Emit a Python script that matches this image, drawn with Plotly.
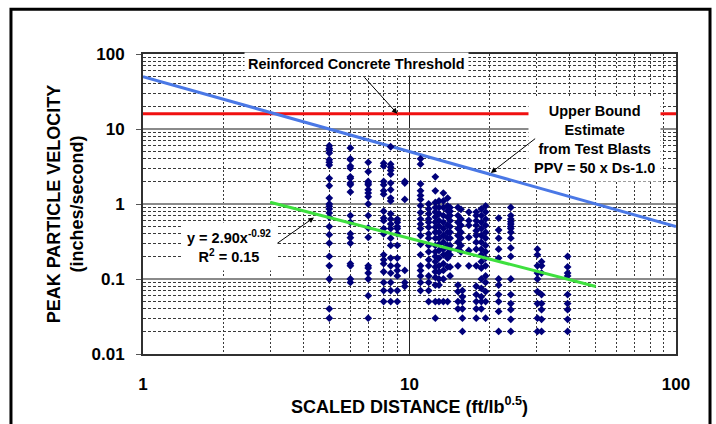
import math
import plotly.graph_objects as go

# Measured blasts: scaled distance (ft/lb^0.5) of each monitoring column and the PPV readings there
column_distances = [5.0, 6.0, 7.0, 8.0, 8.5, 9.0, 9.6, 11.0, 11.8, 12.5, 12.9, 13.4, 13.9,
                    14.2, 15.2, 15.6, 15.8, 16.7, 17.8, 18.6, 19.3, 21.6, 24.0, 30.2, 31.3, 39.2]
column_ppv = [
    [6.0, 5.5, 5.2, 4.8, 3.9, 3.6, 3.3, 2.2, 1.75, 1.2, 1.0, 0.93, 0.86, 0.76, 0.67, 0.5, 0.39,
     0.3, 0.2, 0.15, 0.1, 0.04, 0.03],
    [5.6, 4.0, 3.9, 3.2, 3.0, 2.3, 2.2, 1.9, 1.8, 1.45, 0.7, 0.57, 0.4, 0.355, 0.3, 0.16, 0.15,
     0.1, 0.09],
    [3.6, 2.7, 2.0, 1.9, 1.8, 1.55, 1.4, 1.25, 1.0, 0.7, 0.48, 0.36, 0.15, 0.14, 0.12, 0.1,
     0.06, 0.03],
    [3.5, 3.2, 2.0, 1.8, 1.5, 1.35, 0.8, 0.65, 0.6, 0.47, 0.4, 0.21, 0.18, 0.16, 0.125, 0.09,
     0.07, 0.05],
    [5.8, 3.4, 3.1, 2.8, 2.5, 1.9, 1.55, 1.2, 1.1, 0.74, 0.63, 0.54, 0.47, 0.35, 0.28, 0.19,
     0.15, 0.12, 0.09, 0.07, 0.05],
    [0.63, 0.57, 0.5, 0.47, 0.4, 0.28, 0.19, 0.15, 0.13, 0.11, 0.07, 0.05],
    [2.0, 1.9, 1.15, 0.13, 0.09, 0.08],
    [4.0, 3.4, 1.85, 1.5, 1.3, 1.15, 0.95, 0.77, 0.63, 0.54, 0.47, 0.38, 0.29, 0.21, 0.15,
     0.13, 0.11, 0.09, 0.07],
    [1.0, 0.86, 0.74, 0.63, 0.57, 0.49, 0.4, 0.35, 0.28, 0.23, 0.18, 0.15, 0.11, 0.09, 0.07,
     0.05],
    [2.3, 1.5, 1.05, 0.9, 0.78, 0.67, 0.57, 0.49, 0.42, 0.35, 0.28, 0.23, 0.2, 0.17, 0.145,
     0.125, 0.105, 0.083, 0.05, 0.03],
    [1.1, 0.9, 0.74, 0.6, 0.51, 0.42, 0.35, 0.29, 0.24, 0.19, 0.15, 0.125, 0.1, 0.083, 0.05],
    [1.4, 1.1, 0.9, 0.7, 0.57, 0.47, 0.38, 0.31, 0.25, 0.21, 0.16, 0.13, 0.1, 0.05],
    [1.2, 0.94, 0.81, 0.67, 0.52, 0.42, 0.35, 0.28, 0.22, 0.19, 0.145, 0.05],
    [0.9, 0.8, 0.7, 0.6, 0.5, 0.42, 0.35, 0.28, 0.25, 0.21, 0.145, 0.11],
    [0.9, 0.7, 0.57, 0.47, 0.38, 0.31, 0.25, 0.15, 0.083, 0.068, 0.05, 0.04],
    [0.85, 0.63, 0.52, 0.42, 0.35, 0.28, 0.23],
    [0.07, 0.058, 0.05, 0.04, 0.03, 0.02],
    [0.78, 0.6, 0.52, 0.36, 0.24, 0.15],
    [0.78, 0.7, 0.6, 0.52, 0.44, 0.38, 0.31, 0.25, 0.15, 0.08, 0.062, 0.05, 0.04, 0.03],
    [0.86, 0.7, 0.57, 0.47, 0.38, 0.31, 0.25, 0.21, 0.17, 0.14, 0.1, 0.075, 0.058, 0.05, 0.04],
    [0.94, 0.78, 0.63, 0.52, 0.42, 0.35, 0.28, 0.23, 0.19, 0.15, 0.11, 0.09, 0.068, 0.05, 0.03],
    [0.65, 0.45, 0.35, 0.25, 0.19, 0.1, 0.083, 0.062, 0.05, 0.037, 0.02],
    [0.9, 0.7, 0.63, 0.58, 0.54, 0.5, 0.47, 0.42, 0.35, 0.26, 0.2, 0.1, 0.062, 0.047, 0.039,
     0.029, 0.02],
    [0.25, 0.21, 0.15, 0.12, 0.1, 0.068, 0.047, 0.03, 0.02],
    [0.17, 0.15, 0.12, 0.062, 0.047, 0.039, 0.029, 0.02],
    [0.2, 0.145, 0.12, 0.11, 0.062, 0.047, 0.039, 0.029, 0.02],
]

# Reference curves
threshold_ppv = 16.0                  # reinforced concrete threshold (in/s)
upper_coef, upper_exp = 50.0, -1.0    # PPV = 50 x Ds^-1.0
upper_range = [1.0, 100.0]
fit_coef, fit_exp = 2.90, -0.92       # power-law regression
fit_range = [3.0, 50.0]

x_ticks = [1, 10, 100]
y_ticks = [0.01, 0.1, 1, 10, 100]

FONT = "Liberation Sans, Arial, sans-serif"

sd = [d for d, col in zip(column_distances, column_ppv) for _ in col]
ppv = [v for col in column_ppv for v in col]

fig = go.Figure()

fig.add_trace(go.Scatter(
    x=upper_range, y=[threshold_ppv, threshold_ppv], mode="lines",
    line=dict(color="#F01010", width=3), showlegend=False))
fig.add_trace(go.Scatter(
    x=upper_range, y=[upper_coef * d ** upper_exp for d in upper_range], mode="lines",
    line=dict(color="#4A78E6", width=3), showlegend=False))
fig.add_trace(go.Scatter(
    x=sd, y=ppv, mode="markers",
    marker=dict(symbol="diamond", size=6, color="#00007A"), showlegend=False))
fig.add_trace(go.Scatter(
    x=fit_range, y=[fit_coef * d ** fit_exp for d in fit_range], mode="lines",
    line=dict(color="#3EE03E", width=3), showlegend=False))

minor_vals = [m * 10 ** k for k in range(-2, 2) for m in range(2, 10)]

fig.update_xaxes(
    type="log", range=[0, 2],
    tickvals=x_ticks, ticktext=[str(v) for v in x_ticks],
    ticks="", ticklabelstandoff=14,
    tickfont=dict(family=FONT, size=17, color="black", weight="bold"),
    showgrid=True, gridcolor="#222222", gridwidth=1,
    minor=dict(tickvals=minor_vals, showgrid=True, gridcolor="#3a3a3a",
               griddash="2px,2px", gridwidth=1),
    showline=True, linecolor="#303030", linewidth=2, mirror=True,
    title=dict(text="<b>SCALED DISTANCE (ft/lb<sup>0.5</sup>)</b>", standoff=5,
               font=dict(family=FONT, size=18, color="black")),
    zeroline=False,
)
fig.update_yaxes(
    type="log", range=[-2, 2],
    tickvals=y_ticks, ticktext=[f"{v:g}" for v in y_ticks],
    ticks="outside", ticklen=5, tickcolor="#555555", ticklabelstandoff=8,
    tickfont=dict(family=FONT, size=17, color="black", weight="bold"),
    showgrid=True, gridcolor="#8a8a8a", gridwidth=2,
    minor=dict(tickvals=minor_vals, showgrid=True, gridcolor="#3a3a3a",
               griddash="3px,2px", gridwidth=1),
    showline=True, linecolor="#303030", linewidth=2, mirror=True,
    title=dict(text="<b>PEAK PARTICLE VELOCITY<br>(inches/second)</b>", standoff=3,
               font=dict(family=FONT, size=18, color="black")),
    zeroline=False,
)

ann_font = dict(family=FONT, size=14.5, color="black")
lg = math.log10

fig.add_annotation(
    x=lg(6.35), y=lg(73.5), xref="x", yref="y",
    text="<b>Reinforced Concrete Threshold</b>", showarrow=False,
    bgcolor="white", borderpad=3, font=ann_font)
fig.add_annotation(
    x=lg(49.5), y=lg(7.3), xref="x", yref="y",
    text="<b>Upper Bound<br>Estimate<br>from Test Blasts<br>PPV = 50 x Ds-1.0</b>",
    showarrow=False, bgcolor="white", borderpad=5, font=ann_font)
fig.add_annotation(
    x=lg(2.1), y=lg(0.27), xref="x", yref="y",
    text="<b>y = 2.90x<sup>-0.92</sup><br>R<sup>2</sup> = 0.15</b>",
    showarrow=False, bgcolor="white", borderpad=5, font=ann_font)

# Pointer arrows from the labels to the curves they describe
arrows = [
    ((6.7, 51.0), (9.0, threshold_ppv)),
    ((30.0, 7.7), (20.2, 2.6)),
    ((3.15, 0.29), (4.38, 0.66)),
]
for (tx, ty), (hx, hy) in arrows:
    fig.add_annotation(
        x=lg(hx), y=lg(hy), ax=lg(tx), ay=lg(ty),
        xref="x", yref="y", axref="x", ayref="y",
        text="", showarrow=True, arrowhead=2, arrowsize=1.1, arrowwidth=1,
        arrowcolor="black")

# Frame around the whole figure
fig.add_shape(type="rect", xref="paper", yref="paper",
              x0=-0.2477, x1=1.0638, y0=-0.26, y1=1.149,
              line=dict(color="black", width=3), fillcolor="rgba(0,0,0,0)")

fig.update_layout(
    width=716, height=424,
    margin=dict(l=143, r=40, t=54, b=68),
    paper_bgcolor="white", plot_bgcolor="white",
    font=dict(family=FONT, color="black"),
    showlegend=False,
)

fig.write_html("out.html")
